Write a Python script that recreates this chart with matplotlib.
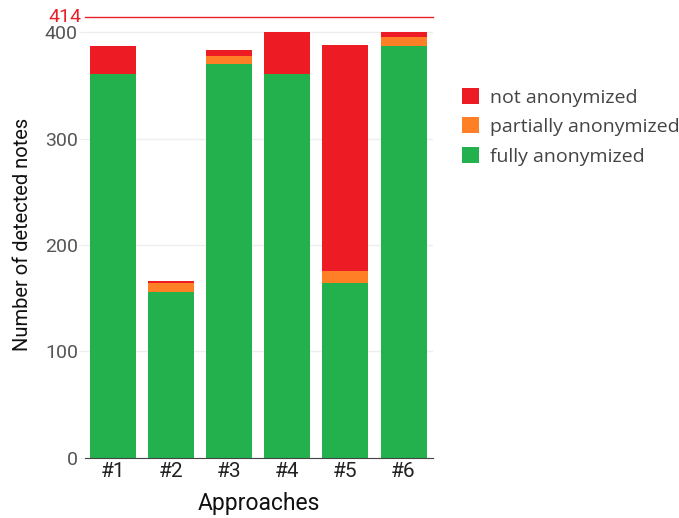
"""Stacked bar chart of anonymization results per approach"""

from matplotlib import pyplot as plt

approaches = ['#1', '#2', '#3', '#4', '#5', '#6']
fully = [361, 156, 370, 361, 164, 387]
partially = [0, 8, 8, 0, 12, 8]
not_anon = [26, 2, 5, 39, 212, 5]
total_notes = 414

plt.rcParams['font.family'] = ['Roboto', 'DejaVu Sans']

fig = plt.figure(figsize=(6.79, 5.18), dpi=100)
ax = fig.add_axes([0.125, 0.116, 0.513, 0.863])

x = range(len(approaches))
bottom2 = [f + p for f, p in zip(fully, partially)]
ax.bar(x, fully, 0.79, color='#22B14C', label='fully anonymized', zorder=2)
ax.bar(x, partially, 0.79, bottom=fully, color='#FF7F27',
       label='partially anonymized', zorder=2)
ax.bar(x, not_anon, 0.79, bottom=bottom2, color='#ED1C24',
       label='not anonymized', zorder=2)

ax.set_xlim(-0.48, 5.51)
ax.set_ylim(0, 420)
ax.set_yticks([0, 100, 200, 300, 400])
ax.set_xticks(list(x))
ax.set_xticklabels(approaches)
ax.grid(axis='y', color='#eeeeee', linewidth=1, zorder=0)

for s in ['top', 'right', 'left']:
    ax.spines[s].set_visible(False)
ax.spines['bottom'].set_color('#444444')
ax.tick_params(axis='y', length=4, color='#eeeeee', labelsize=14,
               labelcolor='#555555', pad=1)
ax.tick_params(axis='x', length=0, labelsize=15, labelcolor='#222222', pad=3)

ax.axhline(total_notes, color='#E8202A', linewidth=1, clip_on=False, zorder=3)
ax.text(-0.01, total_notes, str(total_notes), color='#E8202A', fontsize=14,
        transform=ax.get_yaxis_transform(), ha='right', va='center')

ax.set_xlabel('Approaches', fontsize=16.5, color='#111111', labelpad=8)
ax.set_ylabel('Number of detected notes', fontsize=14.5, color='#111111',
              labelpad=9)

handles, labels = ax.get_legend_handles_labels()
fig.legend(handles[::-1], labels[::-1], loc='upper left',
           bbox_to_anchor=(0.655, 0.864), frameon=False,
           prop={'family': 'Open Sans', 'size': 14}, labelcolor='#444444',
           handlelength=0.88, handleheight=0.88, handletextpad=0.55,
           labelspacing=0.56)

fig.savefig('out.png', dpi=100)
